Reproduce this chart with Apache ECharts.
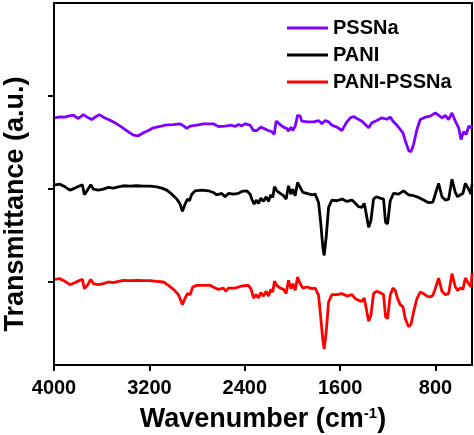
<!DOCTYPE html>
<html>
<head>
<meta charset="utf-8">
<script src="https://cdn.jsdelivr.net/npm/echarts@6/dist/echarts.min.js"></script>
<style>html,body{margin:0;padding:0;background:#fff}#c{width:474px;height:435px}</style>
</head>
<body>
<div id="c"></div>
<script>
var seriesNames = ['PSSNa', 'PANI', 'PANI-PSSNa'];
var xTicks = [4000, 3200, 2400, 1600, 800];
var yTicks = [1, 2, 3];

var pssnaWn = [3992,3950,3908,3880,3838,3796,3754,3712,3684,3656,3620,3586,3544,3488,3432,3376,3334,3292,3250,3208,3166,3110,3068,2998,2942,2914,2886,2858,2802,2747,2691,2663,2621,2565,2509,2481,2453,2425,2397,2355,2327,2299,2265,2229,2201,2173,2153,2137,2103,2075,2047,2033,2013,1997,1977,1957,1935,1921,1879,1823,1781,1753,1725,1697,1669,1627,1585,1549,1515,1487,1459,1417,1389,1361,1334,1292,1250,1208,1180,1152,1124,1096,1073,1054,1026,1006,984,956,928,886,844,802,774,746,718,690,662,634,606,586,564,542,522,502,494];
var pssnaT = [2.766,2.776,2.773,2.784,2.794,2.759,2.801,2.766,2.748,2.773,2.801,2.773,2.748,2.712,2.666,2.616,2.580,2.573,2.605,2.630,2.659,2.673,2.687,2.694,2.702,2.680,2.652,2.677,2.687,2.702,2.702,2.702,2.673,2.677,2.687,2.673,2.694,2.680,2.702,2.687,2.630,2.630,2.666,2.645,2.630,2.616,2.588,2.730,2.694,2.666,2.652,2.623,2.666,2.630,2.677,2.794,2.784,2.730,2.723,2.723,2.737,2.702,2.737,2.723,2.687,2.666,2.630,2.712,2.766,2.780,2.759,2.730,2.694,2.659,2.712,2.737,2.766,2.751,2.773,2.723,2.687,2.641,2.605,2.523,2.416,2.402,2.481,2.641,2.748,2.773,2.784,2.819,2.794,2.766,2.791,2.748,2.819,2.730,2.659,2.534,2.616,2.588,2.677,2.659,2.687];

var paniWn = [3992,3950,3908,3866,3824,3782,3762,3745,3720,3692,3670,3628,3586,3544,3502,3460,3418,3362,3306,3250,3194,3138,3096,3054,3012,2970,2942,2923,2900,2881,2864,2844,2816,2760,2705,2663,2635,2593,2565,2537,2495,2453,2425,2383,2355,2341,2321,2304,2285,2265,2243,2220,2201,2181,2165,2151,2131,2103,2075,2053,2033,2013,1997,1977,1957,1935,1913,1879,1837,1809,1781,1762,1745,1734,1717,1697,1669,1627,1585,1543,1501,1473,1445,1417,1398,1381,1361,1342,1320,1297,1264,1236,1219,1202,1180,1152,1110,1068,1026,984,942,900,858,822,802,774,746,718,690,662,634,614,592,570,550,522,502,494];
var paniT = [2.046,2.053,2.025,1.989,2.011,2.036,2.046,1.939,1.989,2.046,2.000,1.989,2.000,2.018,2.011,2.025,2.036,2.032,2.036,2.032,2.032,2.025,2.011,1.989,1.946,1.893,1.839,1.761,1.839,1.893,1.875,1.946,1.982,1.989,1.982,1.964,1.939,1.954,1.918,1.954,1.946,1.954,1.975,1.982,1.946,1.893,1.839,1.882,1.847,1.904,1.868,1.918,1.868,1.939,1.911,2.025,1.982,1.954,1.929,1.893,2.036,1.946,2.000,1.929,2.071,2.018,1.964,1.954,1.939,1.946,1.857,1.626,1.376,1.287,1.483,1.804,1.882,1.875,1.893,1.868,1.882,1.847,1.811,1.804,1.847,1.733,1.590,1.661,1.893,1.918,1.904,1.893,1.643,1.626,1.875,1.954,1.946,1.982,1.939,1.929,1.911,1.882,1.854,1.861,1.946,2.061,1.918,1.882,1.893,2.107,1.964,1.918,1.939,1.954,2.061,2.000,1.946,2.053];

var compWn = [3992,3950,3908,3866,3824,3782,3762,3745,3720,3692,3670,3628,3586,3544,3502,3460,3418,3362,3306,3250,3194,3138,3082,3040,2998,2956,2923,2900,2881,2858,2836,2802,2747,2691,2649,2621,2579,2559,2537,2481,2425,2369,2346,2327,2304,2285,2265,2243,2220,2201,2181,2165,2151,2131,2103,2075,2053,2033,2013,1997,1977,1957,1935,1913,1879,1837,1809,1781,1762,1745,1734,1717,1697,1669,1627,1585,1543,1501,1473,1445,1417,1398,1381,1361,1342,1320,1297,1264,1236,1219,1202,1180,1157,1138,1118,1096,1073,1054,1026,1006,984,956,928,900,872,844,822,802,774,746,718,690,662,634,614,592,570,550,522,502,494];
var compT = [1.030,1.037,1.009,0.973,0.995,1.020,1.030,0.930,0.966,1.030,0.984,0.973,0.984,1.002,0.995,1.009,1.020,1.016,1.020,1.016,1.016,1.009,1.002,0.966,0.923,0.866,0.759,0.830,0.877,0.866,0.948,0.966,0.966,0.966,0.937,0.923,0.937,0.902,0.937,0.937,0.959,0.966,0.923,0.830,0.866,0.830,0.887,0.851,0.902,0.851,0.923,0.894,1.009,0.966,0.937,0.923,0.877,1.020,0.930,0.984,0.912,1.055,0.984,0.937,0.948,0.930,0.937,0.859,0.610,0.377,0.281,0.467,0.787,0.866,0.866,0.877,0.851,0.866,0.823,0.805,0.794,0.830,0.716,0.580,0.645,0.877,0.902,0.887,0.866,0.627,0.610,0.859,0.937,0.912,0.823,0.759,0.734,0.609,0.520,0.545,0.680,0.823,0.894,0.877,0.851,0.841,0.859,0.930,1.044,0.902,0.866,0.877,1.091,0.948,0.912,0.937,0.923,1.044,0.984,0.948,1.091];

function pairs(xs, ys) { return xs.map(function (x, i) { return [x, ys[i]]; }); }

var chart = echarts.init(document.getElementById('c'), null, {renderer: 'canvas'});
var FONT = 'Liberation Sans, Arial, sans-serif';
var frameAxis = {axisLine: {show: true, onZero: false, lineStyle: {color: '#000', width: 2}}, axisTick: {show: false}, axisLabel: {show: false}, splitLine: {show: false}};
chart.setOption({
  animation: false,
  backgroundColor: '#fff',
  grid: {left: 54, right: 2, top: 3, bottom: 70, show: true, borderColor: '#000', borderWidth: 2, containLabel: false, outerBoundsMode: 'none'},
  legend: {
    orient: 'vertical', left: 282, top: 13, itemWidth: 41, itemHeight: 3, itemGap: 7, icon: 'rect',
    data: seriesNames,
    textStyle: {fontFamily: FONT, fontWeight: 'bold', fontSize: 20, color: '#000'}
  },
  xAxis: [{
    type: 'value', inverse: true, min: 494, max: 4000,
    axisLine: {onZero: false, lineStyle: {color: '#000', width: 2}},
    axisTick: {show: true, inside: false, length: 6, lineStyle: {color: '#000', width: 2}, customValues: xTicks},
    axisLabel: {customValues: xTicks, margin: 13, formatter: function (v) { return String(v); }, fontFamily: FONT, fontWeight: 'bold', fontSize: 20, color: '#000'},
    splitLine: {show: false},
    name: '{a|Wavenumber (cm}{b|-1}{a|)}',
    nameLocation: 'middle', nameGap: 41,
    nameTextStyle: {
      rich: {
        a: {fontFamily: FONT, fontWeight: 'bold', fontSize: 27, color: '#000'},
        b: {fontFamily: FONT, fontWeight: 'bold', fontSize: 15, color: '#000', verticalAlign: 'top', padding: [0, 0, 12, 0]}
      }
    }
  }, Object.assign({type: 'value', position: 'top', inverse: true, min: 494, max: 4000}, frameAxis)],
  yAxis: [{
    type: 'value', min: 0.11, max: 4.0,
    axisLine: {show: true, onZero: false, lineStyle: {color: '#000', width: 2}},
    axisTick: {show: true, inside: false, length: 6, lineStyle: {color: '#000', width: 2}, customValues: yTicks},
    axisLabel: {show: false},
    splitLine: {show: false}
  }, Object.assign({type: 'value', position: 'right', min: 0.11, max: 4.0}, frameAxis)],
  graphic: [{
    type: 'text', x: 16, y: 204, rotation: Math.PI / 2,
    style: {text: 'Transmittance (a.u.)', fontFamily: FONT, fontWeight: 'bold', fontSize: 27, fill: '#000', align: 'center', verticalAlign: 'middle'}
  }],
  series: [
    {name: seriesNames[0], type: 'line', symbol: 'none', data: pairs(pssnaWn, pssnaT), lineStyle: {color: '#7F00FF', width: 2.8}, itemStyle: {color: '#7F00FF'}},
    {name: seriesNames[1], type: 'line', symbol: 'none', data: pairs(paniWn, paniT), lineStyle: {color: '#000000', width: 2.8}, itemStyle: {color: '#000000'}},
    {name: seriesNames[2], type: 'line', symbol: 'none', data: pairs(compWn, compT), lineStyle: {color: '#FF0000', width: 2.8}, itemStyle: {color: '#FF0000'}}
  ]
});
</script>
</body>
</html>
